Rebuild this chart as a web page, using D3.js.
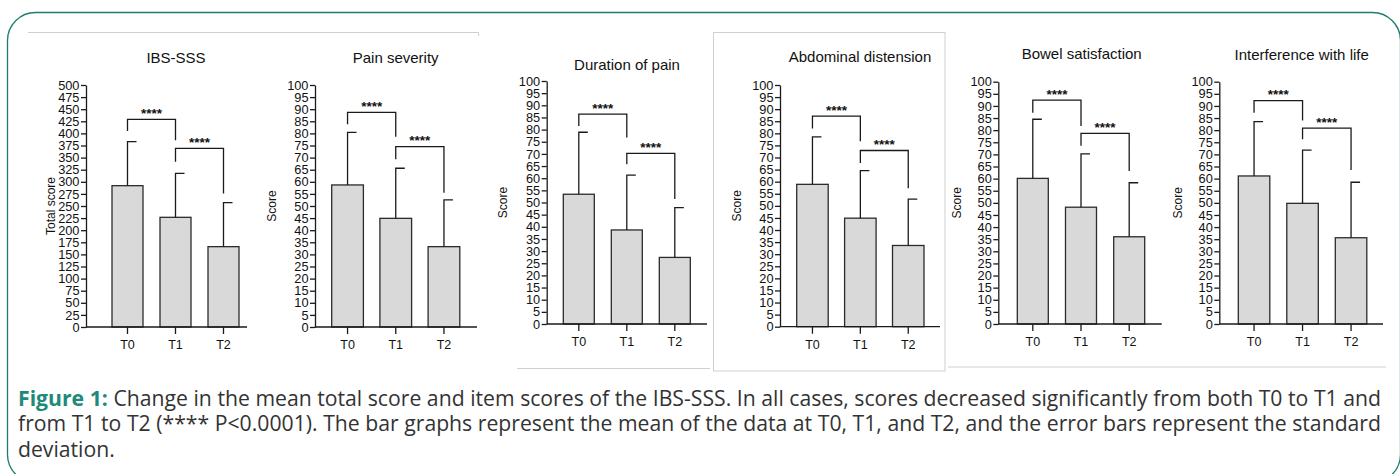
<!DOCTYPE html>
<html>
<head>
<meta charset="utf-8">
<script src="https://cdn.jsdelivr.net/npm/d3@7"></script>
<style>
  body { margin: 0; background: #fff; }
  svg { display: block; }
</style>
</head>
<body>
<div id="scene"></div>
<script>
var groups = ["T0", "T1", "T2"];
var titles = ["IBS-SSS", "Pain severity", "Duration of pain", "Abdominal distension", "Bowel satisfaction", "Interference with life"];
var yTitles = ["Total score", "Score", "Score", "Score", "Score", "Score"];
var yMax = [500, 100, 100, 100, 100, 100];
var yStep = [25, 5, 5, 5, 5, 5];

// mean per time point
var means = [
  [292, 226.6, 166],
  [58.7, 44.9, 33.2],
  [53.4, 38.7, 27.4],
  [58.9, 44.9, 33.6],
  [60.1, 48.2, 36.0],
  [61.1, 49.8, 35.6]
];
// standard deviation per time point
var sds = [
  [91, 91, 91],
  [21.7, 20.7, 19.3],
  [25.5, 22.6, 20.5],
  [19.6, 19.7, 19.2],
  [24.4, 22.0, 22.3],
  [22.4, 22.0, 22.9]
];
// significance brackets: [bar level, left leg end, right leg end]
var brackets01 = [[429, 405, 386], [88.7, 83.8, 78.6], [86.4, 81.5, 76.7], [87.1, 82, 76.7], [92.4, 87.2, 81.7], [92.2, 87.2, 84]];
var brackets12 = [[369, 341.5, 276], [74.5, 69.3, 55.5], [70.2, 65.7, 51.4], [72.9, 67.7, 57.3], [78.7, 73.6, 63.1], [80.8, 76.2, 63.6]];
var starLabel = "****";

var captionHead = "Figure 1:";
var captionLines = [
  "Change in the mean total score and item scores of the IBS-SSS. In all cases, scores decreased significantly from both T0 to T1 and",
  "from T1 to T2 (**** P<0.0001). The bar graphs represent the mean of the data at T0, T1, and T2, and the error bars represent the standard",
  "deviation."
];

/******** layout ********/
var W = 1400, H = 474;
var teal = "#1d7d6c";
var chartFont = "'Liberation Sans', Arial, sans-serif";
var panels = [
  {ax: 86,     y0: 327,   yT: 85,   bx: 112,    step: 48,   bw: 31,   end: 247,    tx: 176,    ty: 58, lx: 51},
  {ax: 315,    y0: 327,   yT: 85,   bx: 331.7,  step: 48.2, bw: 31.7, end: 477,    tx: 395.7,  ty: 58, lx: 271.7},
  {ax: 546.7,  y0: 324,   yT: 81,   bx: 563.3,  step: 48,   bw: 31,   end: 707,    tx: 627,    ty: 65, lx: 502.3},
  {ax: 780,    y0: 326.7, yT: 85,   bx: 796.7,  step: 47.9, bw: 31.5, end: 940,    tx: 860,    ty: 57, lx: 736.7},
  {ax: 998.3,  y0: 324,   yT: 81.7, bx: 1017.3, step: 48.2, bw: 31,   end: 1161.7, tx: 1081.7, ty: 54, lx: 956.7},
  {ax: 1219.3, y0: 324,   yT: 81.7, bx: 1238.3, step: 48.5, bw: 31.5, end: 1383,   tx: 1301.7, ty: 55, lx: 1177.7}
];

var svg = d3.select("#scene").append("svg")
  .attr("width", W)
  .attr("height", H);

// outer frame
svg.append("rect")
  .attr("x", 7.5).attr("y", 12.5)
  .attr("width", 1393).attr("height", 470)
  .attr("rx", 28).attr("ry", 28)
  .style("fill", "none")
  .style("stroke", teal)
  .style("stroke-width", 1.3);

// light grey edges of the pasted figure pieces
var grey = svg.append("g").style("stroke", "#cfcfcf").style("stroke-width", 1).style("fill", "none");
grey.append("path").attr("d", "M28,32.5H478.5V36");
grey.append("path").attr("d", "M517,368.5H710");
grey.append("rect").attr("x", 713.5).attr("y", 32.5).attr("width", 231.5).attr("height", 338.5);
grey.append("path").attr("d", "M948,367H1386");

var drawPanel = function(i) {
  var p = panels[i];
  var g = svg.append("g").attr("class", "panel");

  var y = d3.scaleLinear().domain([0, yMax[i]]).range([p.y0, p.yT]);
  var x = d3.scaleBand().domain(groups)
    .range([p.bx, p.bx + p.step * 2 + p.bw])
    .paddingInner((p.step - p.bw) / p.step)
    .paddingOuter(0);

  // title
  g.append("text")
    .attr("x", p.tx).attr("y", p.ty + 5)
    .attr("text-anchor", "middle")
    .style("font-family", chartFont)
    .style("font-size", "15px")
    .style("fill", "#111")
    .text(titles[i]);

  // bars
  g.selectAll("rect.bar")
    .data(means[i])
    .enter().append("rect")
    .attr("class", "bar")
    .attr("x", function(d, j) { return x(groups[j]); })
    .attr("y", function(d) { return y(d); })
    .attr("width", x.bandwidth())
    .attr("height", function(d) { return p.y0 - y(d); })
    .style("fill", "#d9d9d9")
    .style("stroke", "#2b2b2b")
    .style("stroke-width", 1.3);

  // error bars (upper only, cap to the right)
  var cx = function(j) { return x(groups[j]) + x.bandwidth() / 2; };
  var err = g.append("g").style("stroke", "#1a1a1a").style("stroke-width", 1.3).style("fill", "none");
  means[i].forEach(function(m, j) {
    var top = y(m + sds[i][j]);
    err.append("path")
      .attr("d", "M" + cx(j) + "," + y(m) + "V" + top + "H" + (cx(j) + 9));
  });

  // significance brackets
  var br = g.append("g").style("stroke", "#1a1a1a").style("stroke-width", 1.3).style("fill", "none");
  [[brackets01[i], 0, 1], [brackets12[i], 1, 2]].forEach(function(b) {
    var v = b[0], a = cx(b[1]), c = cx(b[2]);
    br.append("path")
      .attr("d", "M" + a + "," + y(v[1]) + "V" + y(v[0]) + "H" + c + "V" + y(v[2]));
    g.append("text")
      .attr("x", (a + c) / 2).attr("y", y(v[0]) - 1.5)
      .attr("text-anchor", "middle")
      .style("font-family", chartFont)
      .style("font-size", "13.5px")
      .style("font-weight", "bold")
      .style("fill", "#111")
      .text(starLabel);
  });

  // y axis
  var yAxis = d3.axisLeft(y)
    .tickValues(d3.range(0, yMax[i] + yStep[i] / 2, yStep[i]))
    .tickSize(5)
    .tickSizeOuter(0)
    .tickPadding(1.5);
  var ya = g.append("g").attr("transform", "translate(" + p.ax + ",0)").call(yAxis);
  ya.selectAll("path, line").style("stroke", "#1a1a1a").style("stroke-width", 1.3);
  ya.selectAll("text")
    .style("font-family", chartFont)
    .style("font-size", "12.8px")
    .style("fill", "#111");

  // x axis
  var xAxis = d3.axisBottom(x).tickSize(7).tickPadding(6);
  var xa = g.append("g").attr("transform", "translate(0," + p.y0 + ")").call(xAxis);
  xa.select(".domain").remove();
  xa.selectAll("line").style("stroke", "#1a1a1a").style("stroke-width", 1.3);
  xa.selectAll("text")
    .style("font-family", chartFont)
    .style("font-size", "12.5px")
    .style("fill", "#111");
  g.append("line")
    .attr("x1", p.ax).attr("x2", p.end)
    .attr("y1", p.y0).attr("y2", p.y0)
    .style("stroke", "#1a1a1a")
    .style("stroke-width", 1.3);

  // y title
  g.append("text")
    .attr("transform", "translate(" + p.lx + "," + ((p.y0 + p.yT) / 2) + ") rotate(-90)")
    .attr("text-anchor", "middle")
    .attr("dy", "0.35em")
    .style("font-family", chartFont)
    .style("font-size", "12px")
    .style("fill", "#111")
    .text(yTitles[i]);
};

for (var i = 0; i < panels.length; i++) {
  drawPanel(i);
}

/******** caption, justified like the page ********/
var capX0 = 18, capX1 = 1381;
var capY = [405.5, 431, 456.5];
var capSize = 20;
var cap = svg.append("g")
  .style("font-family", "'Open Sans', sans-serif");

var lineWords = captionLines.map(function(line, k) {
  var words = line.split(" ").map(function(t) { return {t: t, head: false}; });
  if (k === 0) {
    words = captionHead.split(" ").map(function(t) { return {t: t, head: true}; }).concat(words);
  }
  return words;
});

// pick a font size so the fullest line fits with ordinary word gaps
var probe = cap.append("text").style("font-size", capSize + "px");
var natural = d3.max(lineWords.slice(0, 2), function(words) {
  return d3.sum(words, function(w) {
    probe.style("font-weight", w.head ? "bold" : "normal").text(w.t);
    return probe.node().getComputedTextLength();
  }) + (words.length - 1) * capSize * 0.26;
});
probe.remove();
capSize = Math.min(22, capSize * (capX1 - capX0) / natural);
cap.style("font-size", capSize + "px");

var drawLine = function(words, y, justify) {
  var nodes = words.map(function(w) {
    return cap.append("text")
      .attr("y", y)
      .style("fill", w.head ? "#21897a" : "#333")
      .style("font-weight", w.head ? "bold" : "normal")
      .text(w.t);
  });
  var widths = nodes.map(function(n) { return n.node().getComputedTextLength(); });
  var total = d3.sum(widths);
  var space = justify ? (capX1 - capX0 - total) / (words.length - 1) : capSize * 0.26;
  var x = capX0;
  nodes.forEach(function(n, k) {
    n.attr("x", x);
    x += widths[k] + space;
  });
};

lineWords.forEach(function(words, k) {
  drawLine(words, capY[k], k < 2);
});
</script>
</body>
</html>
